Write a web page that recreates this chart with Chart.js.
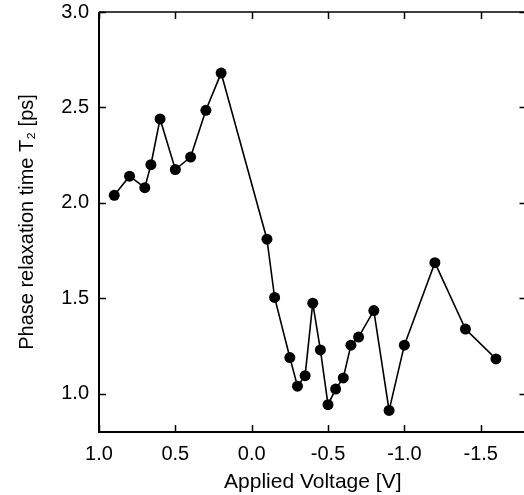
<!DOCTYPE html>
<html lang="en">
<head>
<meta charset="UTF-8">
<title>Phase relaxation time vs applied voltage</title>
<script src="https://cdn.jsdelivr.net/npm/chart.js"></script>
<style>
  html, body { margin: 0; padding: 0; background: #fff; overflow: hidden; }
  #wrap { width: 532px; height: 495px; }
</style>
</head>
<body>
<div id="wrap"><canvas id="t2Chart" width="532" height="495"></canvas></div>
<script>
// data
const voltage = [0.9, 0.8, 0.7, 0.66, 0.6, 0.5, 0.4, 0.3, 0.2, -0.1, -0.15, -0.25, -0.3, -0.35,
                 -0.4, -0.45, -0.5, -0.55, -0.6, -0.65, -0.7, -0.8, -0.9, -1.0, -1.2, -1.4, -1.6];
const t2 = [2.04, 2.14, 2.08, 2.20, 2.44, 2.175, 2.24, 2.485, 2.68, 1.81, 1.505, 1.19, 1.04, 1.095,
            1.475, 1.23, 0.943, 1.025, 1.083, 1.255, 1.297, 1.436, 0.913, 1.255, 1.687, 1.339, 1.183];
const xTicks = [1.0, 0.5, 0.0, -0.5, -1.0, -1.5];
const yTicks = [3.0, 2.5, 2.0, 1.5, 1.0];

const fontFamily = '"Liberation Sans", Arial, Helvetica, sans-serif';

// axes frame with inward tick marks
const frame = {
    id: 'frame',
    afterDatasetsDraw(chart) {
        const { ctx, chartArea: a, scales: { x, y } } = chart;
        ctx.save();
        ctx.strokeStyle = '#000';
        ctx.lineCap = 'butt';
        ctx.lineWidth = 1.5;
        ctx.beginPath();
        xTicks.forEach(v => {
            const px = Math.round(x.getPixelForValue(v)) + 0.5;
            ctx.moveTo(px, a.bottom); ctx.lineTo(px, a.bottom - 7);
            ctx.moveTo(px, a.top); ctx.lineTo(px, a.top + 7);
        });
        yTicks.forEach(v => {
            const py = Math.round(y.getPixelForValue(v)) + 0.5;
            ctx.moveTo(a.left, py); ctx.lineTo(a.left + 7, py);
            ctx.moveTo(a.right, py); ctx.lineTo(a.right - 7, py);
        });
        ctx.stroke();
        ctx.beginPath();
        ctx.moveTo(a.left, a.top); ctx.lineTo(a.right, a.top); ctx.lineTo(a.right, a.bottom);
        ctx.stroke();
        ctx.lineWidth = 2;
        ctx.beginPath();
        ctx.moveTo(a.left, a.top); ctx.lineTo(a.left, a.bottom); ctx.lineTo(a.right, a.bottom);
        ctx.stroke();
        ctx.restore();
    }
};

const ctx = document.getElementById('t2Chart').getContext('2d');
new Chart(ctx, {
    type: 'scatter',
    data: {
        datasets: [{
            data: voltage.map((v, i) => ({ x: v, y: t2[i] })),
            showLine: true,
            borderColor: '#000',
            borderWidth: 1.6,
            backgroundColor: '#000',
            pointRadius: 5.5,
            pointHoverRadius: 5.5,
            pointBorderWidth: 0
        }]
    },
    options: {
        responsive: false,
        animation: false,
        devicePixelRatio: 1,
        layout: { padding: { top: 12, right: 4, left: 0, bottom: 0 } },
        plugins: { legend: { display: false }, tooltip: { enabled: false } },
        scales: {
            x: {
                type: 'linear',
                reverse: true,
                min: -1.8,
                max: 1.0,
                afterFit: s => { s.height = 63; s.paddingLeft = 0; s.paddingRight = 0; },
                afterBuildTicks: s => { s.ticks = xTicks.map(v => ({ value: v })); },
                grid: { display: false, drawTicks: false },
                border: { display: false },
                ticks: {
                    padding: 10,
                    color: '#000',
                    font: { family: fontFamily, size: 20 },
                    callback: v => Number(v).toFixed(1)
                },
                title: {
                    display: true,
                    text: 'Applied Voltage [V]',
                    color: '#000',
                    font: { family: fontFamily, size: 21 },
                    padding: { top: 0, bottom: 0 }
                }
            },
            y: {
                type: 'linear',
                min: 0.8,
                max: 3.0,
                afterFit: s => { s.width = 99; s.paddingTop = 0; s.paddingBottom = 0; },
                afterBuildTicks: s => { s.ticks = yTicks.map(v => ({ value: v })); },
                grid: { display: false, drawTicks: false },
                border: { display: false },
                ticks: {
                    padding: 10,
                    color: '#000',
                    font: { family: fontFamily, size: 20 },
                    callback: v => Number(v).toFixed(1)
                },
                title: {
                    display: true,
                    text: 'Phase relaxation time T\u2082 [ps]',
                    color: '#000',
                    font: { family: fontFamily, size: 20 },
                    padding: { top: 15, bottom: 0 }
                }
            }
        }
    },
    plugins: [frame]
});
</script>
</body>
</html>
